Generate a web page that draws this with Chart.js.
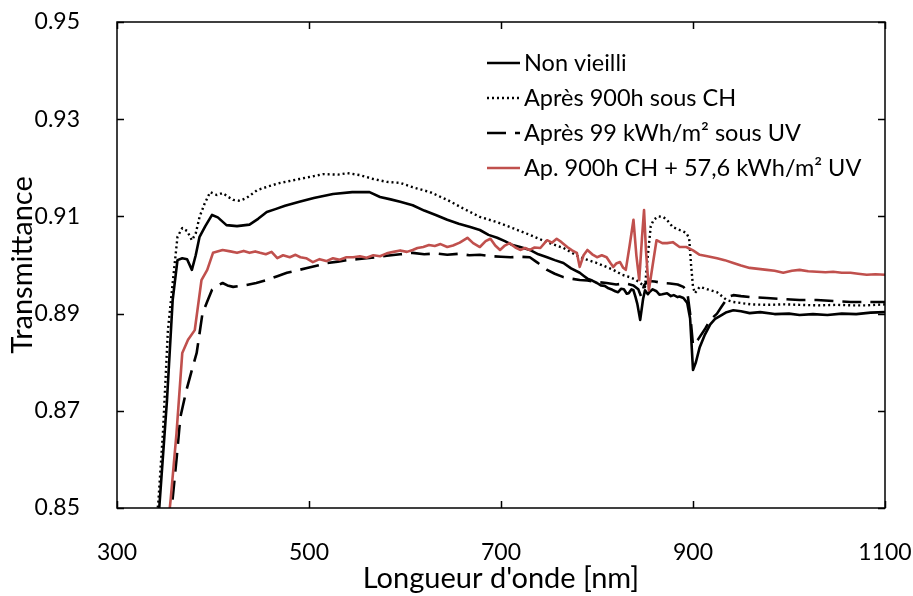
<!DOCTYPE html>
<html><head><meta charset="utf-8">
<script src="https://cdn.jsdelivr.net/npm/chart.js@4/dist/chart.umd.min.js"></script>
<style>html,body{margin:0;padding:0;background:#fff;}</style>
</head><body>
<canvas id="c" width="913" height="596"></canvas>
<script>
const xTicks = [300, 500, 700, 900, 1100];
const yTicks = [0.85, 0.87, 0.89, 0.91, 0.93, 0.95];
const seriesNames = ["Non vieilli", "Après 900h sous CH", "Après 99 kWh/m² sous UV", "Ap. 900h CH + 57,6 kWh/m² UV"];

const wlNonVieilli = [341,344,352,358,363,368,373,378,382,386,392,399,405,414,425,438,447,456,465,475,490,505,525,545,563,574,585,595,608,620,632,644,656,668,678,687,696,704,712,720,730,739,748,756,765,773,782,786,790,795,800,804,808,812,816,819,822,825,828,831,833,836,838,840,842,845,848,850,853,855,858,862,865,868,873,877,880,884,886,890,894,897,900,903,907,912,918,923,928,935,942,950,959,970,985,1000,1011,1025,1040,1055,1070,1085,1100];
const tNonVieilli = [0.846,0.850,0.872,0.8928,0.901,0.9014,0.9012,0.899,0.902,0.9058,0.908,0.9103,0.9098,0.9082,0.908,0.9083,0.9095,0.9109,0.9115,0.9122,0.913,0.9138,0.9146,0.915,0.915,0.914,0.9135,0.913,0.9123,0.9112,0.9103,0.9093,0.9085,0.9078,0.9072,0.9062,0.9056,0.9049,0.9041,0.9037,0.9031,0.9022,0.9016,0.901,0.9004,0.8993,0.8984,0.8978,0.8972,0.8968,0.8963,0.8958,0.8957,0.8952,0.8949,0.8946,0.8944,0.8951,0.8950,0.8941,0.8942,0.8950,0.8948,0.8935,0.8920,0.8887,0.8930,0.8948,0.8940,0.8945,0.8950,0.8946,0.8939,0.8940,0.8942,0.8936,0.8938,0.8934,0.8935,0.8932,0.8922,0.8890,0.8784,0.8800,0.8831,0.8855,0.8878,0.8889,0.8895,0.8903,0.8907,0.8905,0.8901,0.8903,0.8899,0.8900,0.8897,0.8899,0.8897,0.8900,0.8899,0.8902,0.8903];

const wlCH = [340,343,348,353,358,363,368,373,378,382,386,391,397,404,410,416,421,428,435,446,458,470,490,505,515,530,540,553,567,581,595,608,626,644,660,678,696,712,730,748,765,782,800,817,826,834,840,845,850,853,856,859,864,869,874,879,886,893,896,898,900,902,907,915,925,935,942,949,960,977,995,1011,1030,1050,1065,1081,1090,1100];
const tCH = [0.846,0.851,0.866,0.8865,0.8963,0.9058,0.9076,0.907,0.9051,0.9065,0.9099,0.9125,0.915,0.9144,0.9148,0.914,0.9134,0.9132,0.9138,0.9154,0.9162,0.9169,0.9177,0.9183,0.9187,0.9186,0.9189,0.9185,0.9177,0.9171,0.9169,0.916,0.915,0.9134,0.9117,0.9099,0.9088,0.9076,0.9062,0.9047,0.9035,0.9016,0.9004,0.899,0.898,0.8975,0.897,0.8963,0.8955,0.902,0.908,0.9093,0.910,0.9099,0.909,0.9078,0.9072,0.9066,0.9055,0.900,0.8955,0.8942,0.8955,0.895,0.8944,0.8928,0.8924,0.8922,0.8919,0.8918,0.8919,0.8918,0.8917,0.8918,0.8917,0.8917,0.8918,0.8919];

const wlUV = [355,358,362,366,372,378,383,389,394,399,405,410,415,421,428,435,445,456,467,477,488,498,509,519,530,540,550,560,571,581,595,608,620,632,644,656,667,678,690,700,710,720,730,738,748,756,765,773,782,790,800,810,820,830,838,843,846,849,853,860,868,876,884,890,894,897,900,905,913,918,925,930,937,942,950,960,977,994,1011,1029,1046,1064,1081,1100];
const tUV = [0.846,0.852,0.860,0.8687,0.874,0.8784,0.8819,0.890,0.8925,0.8949,0.8958,0.8963,0.8958,0.8955,0.8957,0.8959,0.8963,0.8969,0.8977,0.8984,0.8989,0.8994,0.8999,0.9004,0.9007,0.901,0.9012,0.9014,0.9016,0.9019,0.9022,0.9025,0.9022,0.9024,0.9021,0.9023,0.902,0.9021,0.9018,0.9017,0.9016,0.9017,0.9016,0.9005,0.899,0.8982,0.8975,0.8972,0.8969,0.8968,0.8965,0.8963,0.896,0.8962,0.8958,0.895,0.8935,0.8958,0.8967,0.8966,0.8963,0.8962,0.896,0.8955,0.8945,0.890,0.8835,0.8846,0.887,0.8887,0.890,0.8915,0.8935,0.8938,0.8936,0.8934,0.8932,0.893,0.8928,0.8928,0.8926,0.8924,0.8924,0.8924];

const wlCHUV = [353,356,362,368,374,381,388,394,400,410,418,425,432,438,444,449,455,461,467,473,480,486,491,497,504,511,518,525,532,539,546,553,560,567,574,581,588,595,602,608,613,619,625,631,637,644,650,657,665,671,678,684,689,694,699,704,709,715,720,725,730,735,741,748,753,758,763,769,774,779,782,786,790,795,800,805,810,814,817,820,824,827,830,834,838,841,844,847,849,851,854,858,862,868,873,879,886,893,900,907,915,925,933,942,950,959,968,977,985,994,1003,1011,1020,1029,1038,1046,1055,1064,1072,1081,1090,1100];
const tCHUV = [0.846,0.852,0.8654,0.8819,0.8846,0.8866,0.8969,0.899,0.9025,0.9031,0.9028,0.9025,0.9029,0.9025,0.9028,0.9025,0.9022,0.9027,0.9014,0.902,0.9016,0.9021,0.9016,0.9014,0.9006,0.9012,0.9008,0.9014,0.9011,0.9016,0.9016,0.9018,0.9015,0.902,0.9018,0.9024,0.9027,0.903,0.9027,0.9031,0.9035,0.9037,0.9041,0.9039,0.9043,0.9037,0.904,0.9046,0.9056,0.9045,0.9037,0.9049,0.9054,0.904,0.9031,0.904,0.9045,0.9036,0.9031,0.9035,0.9031,0.9036,0.9035,0.9051,0.9046,0.9054,0.9047,0.9037,0.903,0.9025,0.8996,0.902,0.9031,0.9022,0.9016,0.902,0.9016,0.9004,0.8996,0.9003,0.9006,0.8995,0.899,0.904,0.9093,0.902,0.8969,0.906,0.9113,0.903,0.8948,0.900,0.9051,0.9045,0.9045,0.9047,0.9037,0.9037,0.903,0.9021,0.9018,0.9014,0.901,0.9004,0.8999,0.8994,0.8992,0.899,0.8988,0.8984,0.8988,0.899,0.8987,0.8986,0.8985,0.8986,0.8984,0.8984,0.8982,0.898,0.8981,0.898];

const FONT = "Lato";
const red = "rgb(192,80,77)";

function pts(wl, t) { return wl.map((x, i) => ({x: x, y: t[i]})); }

const styles = [
  {borderColor: "#000", borderWidth: 2.6, borderDash: []},
  {borderColor: "#000", borderWidth: 2.4, borderDash: [2, 3]},
  {borderColor: "#000", borderWidth: 2.6, borderDash: [19, 9]},
  {borderColor: red, borderWidth: 2.6, borderDash: []}
];
const dataArr = [pts(wlNonVieilli, tNonVieilli), pts(wlCH, tCH), pts(wlUV, tUV), pts(wlCHUV, tCHUV)];
const order = [3, 2, 1, 0];
const datasets = order.map(i => Object.assign({
  label: seriesNames[i], data: dataArr[i], pointRadius: 0, tension: 0, fill: false,
  borderCapStyle: 'butt', borderJoinStyle: 'round'
}, styles[i]));

const framePlugin = {
  id: 'frame',
  afterDatasetsDraw(chart) {
    const {ctx, chartArea: a, scales} = chart;
    ctx.save();
    ctx.strokeStyle = '#000';
    ctx.lineWidth = 1.5;
    ctx.strokeRect(a.left, a.top, a.right - a.left, a.bottom - a.top);
    const L = 7;
    ctx.beginPath();
    xTicks.forEach(v => {
      const px = Math.round(scales.x.getPixelForValue(v)) + 0.5;
      ctx.moveTo(px, a.bottom); ctx.lineTo(px, a.bottom - L);
      ctx.moveTo(px, a.top); ctx.lineTo(px, a.top + L);
    });
    yTicks.forEach(v => {
      const py = Math.round(scales.y.getPixelForValue(v)) + 0.5;
      ctx.moveTo(a.left, py); ctx.lineTo(a.left + L, py);
      ctx.moveTo(a.right, py); ctx.lineTo(a.right - L, py);
    });
    ctx.stroke();
    ctx.restore();
  }
};

const legendPlugin = {
  id: 'customLegend',
  afterDraw(chart) {
    const ctx = chart.ctx;
    ctx.save();
    ctx.font = "23.5px " + FONT;
    ctx.fillStyle = '#000';
    ctx.textBaseline = 'middle';
    const x0 = 487, x1 = 520, tx = 524, y0 = 63, dy = 35;
    seriesNames.forEach((name, i) => {
      const y = y0 + i * dy;
      const s = styles[i];
      ctx.strokeStyle = s.borderColor;
      ctx.lineWidth = s.borderWidth;
      ctx.setLineDash(s.borderDash);
      ctx.beginPath(); ctx.moveTo(x0, y); ctx.lineTo(x1, y); ctx.stroke();
      ctx.setLineDash([]);
      ctx.fillText(name, tx, y);
    });
    ctx.restore();
  }
};

new Chart(document.getElementById('c'), {
  type: 'line',
  data: {datasets: datasets},
  options: {
    responsive: false, animation: false, devicePixelRatio: 1,
    layout: {padding: {left: 0, top: 22, right: 28, bottom: 0}},
    plugins: {legend: {display: false}, tooltip: {enabled: false}},
    scales: {
      x: {
        type: 'linear', min: 300, max: 1100,
        afterBuildTicks: s => { s.ticks = xTicks.map(v => ({value: v})); },
        afterFit: s => { s.height = 88; s.paddingLeft = 0; s.paddingRight = 0; },
        grid: {display: false}, border: {display: false},
        ticks: {color: '#000', font: {family: FONT, size: 23}, padding: 23, maxRotation: 0, callback: v => String(v)},
        title: {display: true, text: "Longueur d'onde [nm]", color: '#000', font: {family: FONT, size: 29, lineHeight: 1.2}, padding: {top: 0, bottom: 0}}
      },
      y: {
        type: 'linear', min: 0.85, max: 0.95,
        afterBuildTicks: s => { s.ticks = yTicks.map(v => ({value: v})); },
        afterFit: s => { s.width = 117; s.paddingTop = 0; s.paddingBottom = 0; },
        grid: {display: false}, border: {display: false},
        ticks: {color: '#000', font: {family: FONT, size: 23}, padding: 29, callback: v => v.toFixed(2)},
        title: {display: true, text: "Transmittance", color: '#000', font: {family: FONT, size: 29, lineHeight: 1.2}, padding: {top: 5, bottom: 0}}
      }
    }
  },
  plugins: [framePlugin, legendPlugin]
});
</script>
</body></html>
